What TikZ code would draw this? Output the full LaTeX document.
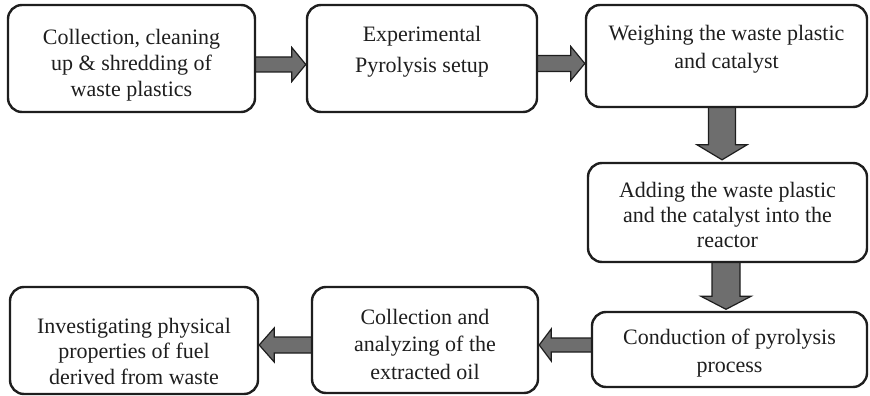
\documentclass[tikz,border=0pt]{standalone}
\usepackage{fontspec}
\setmainfont{Liberation Serif}
\usetikzlibrary{calc}
\pgfdeclarelayer{bg}
\pgfsetlayers{bg,main}
\definecolor{arrowgray}{HTML}{6E6E6E}
\definecolor{ink}{HTML}{1E1E1E}
\tikzset{
  flowbox/.style={draw=ink, line width=2.4pt, rounded corners=14pt, fill=white, inner sep=0pt},
  flowtext/.style={align=center, text=ink, inner sep=0pt},
  barrow/.style={draw=ink, line width=1.2pt, fill=arrowgray, line join=miter}
}
\newcommand\blockarrow[5]{%
  \coordinate (ba-h) at ($(#2)!#5!(#1)$);
  \begin{pgfonlayer}{bg}
  \draw[barrow] ($(#1)!#3!90:(#2)$) -- ($(ba-h)!#3!90:(#2)$) -- ($(ba-h)!#4!90:(#2)$) -- (#2)
     -- ($(ba-h)!#4!-90:(#2)$) -- ($(ba-h)!#3!-90:(#2)$) -- ($(#1)!#3!-90:(#2)$) -- cycle;
  \end{pgfonlayer}}
\begin{document}
\begin{tikzpicture}[x=1pt,y=-1pt]
\useasboundingbox (0,0) rectangle (870,396);
% boxes
\node[flowbox, minimum width=247pt, minimum height=107pt] (b1) at (131.5,58.5) {};
\node[flowbox, minimum width=230pt, minimum height=107pt] (b2) at (422,58.5) {};
\node[flowbox, minimum width=281pt, minimum height=102pt] (b3) at (726.5,56) {};
\node[flowbox, minimum width=279pt, minimum height=99pt] (b4) at (727.5,212.5) {};
\node[flowbox, minimum width=275pt, minimum height=75pt] (b5) at (729.5,349.5) {};
\node[flowbox, minimum width=226pt, minimum height=106pt] (b6) at (425,340) {};
\node[flowbox, minimum width=248pt, minimum height=107pt] (b7) at (134,340.5) {};
% texts
\node[flowtext, font=\fontsize{22}{26}\selectfont] (t1) at (131.5,65) {Collection, cleaning\\up \& shredding of\\waste plastics};
\node[flowtext, font=\fontsize{22}{31}\selectfont] (t2) at (422,51.5) {Experimental\\Pyrolysis setup};
\node[flowtext, font=\fontsize{22}{28}\selectfont] (t3) at (726.5,49) {Weighing the waste plastic\\and catalyst};
\node[flowtext, font=\fontsize{22}{25}\selectfont] (t4) at (727.5,215) {Adding the waste plastic\\and the catalyst into the\\reactor};
\node[flowtext, font=\fontsize{22}{28}\selectfont] (t5) at (729.5,353) {Conduction of pyrolysis\\process};
\node[flowtext, font=\fontsize{22}{27.5}\selectfont] (t6) at (425,344) {Collection and\\analyzing of the\\extracted oil};
\node[flowtext, font=\fontsize{22}{25.5}\selectfont] (t7) at (134,351) {Investigating physical\\properties of fuel\\derived from waste};
% arrows
\coordinate (a12s) at ($(b1.east |- 0,64.5)+(-4,0)$);
\coordinate (a12e) at (a12s -| b2.west);
\blockarrow{a12s}{a12e}{7.5pt}{17pt}{14pt}
\coordinate (a23s) at ($(b2.east |- 0,63.5)+(-4,0)$);
\coordinate (a23e) at (a23s -| b3.west);
\blockarrow{a23s}{a23e}{8pt}{17pt}{14pt}
\coordinate (a34s) at ($(722,0 |- b3.south)+(0,-4)$);
\coordinate (a34e) at ($(a34s |- b4.north)+(0,-2)$);
\blockarrow{a34s}{a34e}{13.5pt}{25pt}{15pt}
\coordinate (a45s) at ($(726,0 |- b4.south)+(0,-4)$);
\coordinate (a45e) at ($(a45s |- b5.north)+(0,-1.5)$);
\blockarrow{a45s}{a45e}{14pt}{25pt}{13pt}
\coordinate (a56s) at ($(b5.west |- 0,345)+(4,0)$);
\coordinate (a56e) at (a56s -| b6.east);
\blockarrow{a56s}{a56e}{7pt}{16pt}{12pt}
\coordinate (a67s) at ($(b6.west |- 0,345)+(4,0)$);
\coordinate (a67e) at (a67s -| b7.east);
\blockarrow{a67s}{a67e}{8pt}{17pt}{15pt}
\end{tikzpicture}
\end{document}
